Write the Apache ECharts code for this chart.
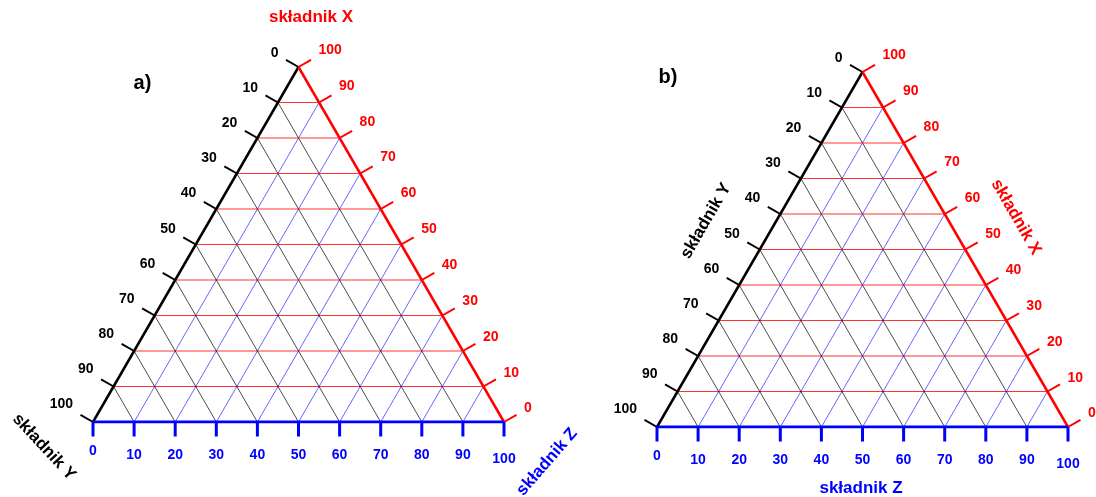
<!DOCTYPE html>
<html><head><meta charset="utf-8">
<script src="https://cdn.jsdelivr.net/npm/echarts@6/dist/echarts.min.js"></script>
<style>html,body{margin:0;padding:0;background:#fff}#c{width:1096px;height:497px}</style>
</head><body><div id="c"></div>
<script>
// ---- data ----
const xTicks = [0,10,20,30,40,50,60,70,80,90,100];   // składnik X (right edge, red)
const yTicks = [0,10,20,30,40,50,60,70,80,90,100];   // składnik Y (left edge, black)
const zTicks = [0,10,20,30,40,50,60,70,80,90,100];   // składnik Z (bottom edge, blue)
const xTickLabels = ['0','10','20','30','40','50','60','70','80','90','100'];
const yTickLabels = ['0','10','20','30','40','50','60','70','80','90','100'];
const zTickLabels = ['0','10','20','30','40','50','60','70','80','90','100'];
const componentNames = ['składnik X','składnik Y','składnik Z'];
const panelLabels = ['a)','b)'];
// vertices (X,Y,Z)
const vertexX = [100,0,0];
const vertexY = [0,100,0];
const vertexZ = [0,0,100];

// ---- styles ----
const S = Math.sqrt(3)/2;
const FONT = '"Liberation Sans", Arial, sans-serif';
const RED = '#ff0000', BLACK = '#000000', BLUE = '#0000ff';
const RED_GRID = 'rgba(255,0,0,0.8)', BLACK_GRID = 'rgba(0,0,0,0.7)', BLUE_GRID = 'rgba(0,0,255,0.6)';

function toXY(X, Y, Z) { return [Z + X/2, X*S]; }

function lineEl(a, b, color, w) {
  return {type:'line', shape:{x1:a[0],y1:a[1],x2:b[0],y2:b[1]}, style:{stroke:color, lineWidth:w}};
}
function textEl(txt, x, y, color, size, align) {
  return {type:'text', style:{text:txt, x:x, y:y, fill:color,
    font:'bold '+size+'px '+FONT, align:align, verticalAlign:'middle',
    textAlign:align, textVerticalAlign:'middle'}};
}

function renderGrid(params, api) {
  const i = params.dataIndex;
  const v = xTicks[i];
  const P = (X,Y,Z) => api.coord(toXY(X,Y,Z));
  const ch = [];
  if (v > 0 && v < 100) {
    ch.push(lineEl(P(v,100-v,0), P(v,0,100-v), RED_GRID, 1));
    const vy = yTicks[i];
    ch.push(lineEl(P(100-vy,vy,0), P(0,vy,100-vy), BLACK_GRID, 1));
    const vz = zTicks[i];
    ch.push(lineEl(P(0,100-vz,vz), P(100-vz,0,vz), BLUE_GRID, 1));
  }
  return {type:'group', children:ch};
}

function renderTicks(params, api) {
  const i = params.dataIndex;
  const P = (X,Y,Z) => api.coord(toXY(X,Y,Z));
  const ch = [];
  // Y axis (left)
  const vy = yTicks[i];
  const pl = P(100-vy, vy, 0);
  ch.push(lineEl(pl, [pl[0]-12.5, pl[1]-7.2], BLACK, 2));
  ch.push(textEl(yTickLabels[i], pl[0]-20, pl[1]-14-3.5*vy/100, BLACK, 14, 'right'));
  // X axis (right)
  const vx = xTicks[i];
  const pr = P(vx, 0, 100-vx);
  ch.push(lineEl(pr, [pr[0]+12.5, pr[1]-7.2], RED, 2));
  ch.push(textEl(xTickLabels[i], pr[0]+20, pr[1]-13.5-3.5*vx/100, RED, 14, 'left'));
  // Z axis (bottom)
  const vz = zTicks[i];
  const pb = P(0, 100-vz, vz);
  ch.push(lineEl(pb, [pb[0], pb[1]+14.5], BLUE, 3));
  const dz = vz === 0 ? -4 : (vz === 100 ? 3.5 : 0);
  ch.push(textEl(zTickLabels[i], pb[0], pb[1]+33.5+dz, BLUE, 14, 'center'));
  return {type:'group', children:ch};
}

const panels = [
  {left:93, top:67, width:411, height:355},
  {left:657, top:72, width:411, height:355}
];

const grid = [], xAxis = [], yAxis = [], series = [];
panels.forEach((p, k) => {
  grid.push({left:p.left, top:p.top, width:p.width, height:p.height, containLabel:false});
  xAxis.push({type:'value', gridIndex:k, min:0, max:100, show:false});
  yAxis.push({type:'value', gridIndex:k, min:0, max:100*S, show:false});
  series.push({type:'custom', xAxisIndex:k, yAxisIndex:k, clip:false, silent:true, z:1,
    renderItem:renderGrid, data:xTicks.map(v => [v, 0])});
  const edges = [
    {a:vertexY, b:vertexX, color:BLACK, w:2.5},
    {a:vertexX, b:vertexZ, color:RED, w:2.5},
    {a:vertexY, b:vertexZ, color:BLUE, w:3}
  ];
  edges.forEach(e => {
    series.push({type:'line', xAxisIndex:k, yAxisIndex:k, silent:true, z:3, showSymbol:false, symbol:'none',
      lineStyle:{color:e.color, width:e.w}, data:[toXY(...e.a), toXY(...e.b)]});
  });
  series.push({type:'custom', xAxisIndex:k, yAxisIndex:k, clip:false, silent:true, z:4,
    renderItem:renderTicks, data:xTicks.map(v => [v, 0])});
});

function gText(txt, x, y, color, size, rotDeg) {
  return {type:'text', x:x, y:y, rotation:rotDeg*Math.PI/180, silent:true,
    style:{text:txt, x:0, y:0, fill:color, font:'bold '+size+'px '+FONT,
      textAlign:'center', textVerticalAlign:'middle', align:'center', verticalAlign:'middle'}};
}

const graphic = [
  gText(componentNames[0], 311, 17.5, RED, 17, 0),
  gText(componentNames[1], 44, 447, BLACK, 17, -47),
  gText(componentNames[2], 547, 462, BLUE, 17, 49),
  gText(panelLabels[0], 142.5, 83, BLACK, 20, 0),
  gText(componentNames[0], 1016, 217, RED, 17, -60),
  gText(componentNames[1], 706, 221, BLACK, 17, 60),
  gText(componentNames[2], 861, 488, BLUE, 17, 0),
  gText(panelLabels[1], 668, 77, BLACK, 20, 0)
];

const chart = echarts.init(document.getElementById('c'));
chart.setOption({animation:false, backgroundColor:'#fff', grid, xAxis, yAxis, series, graphic});
</script>
</body></html>
